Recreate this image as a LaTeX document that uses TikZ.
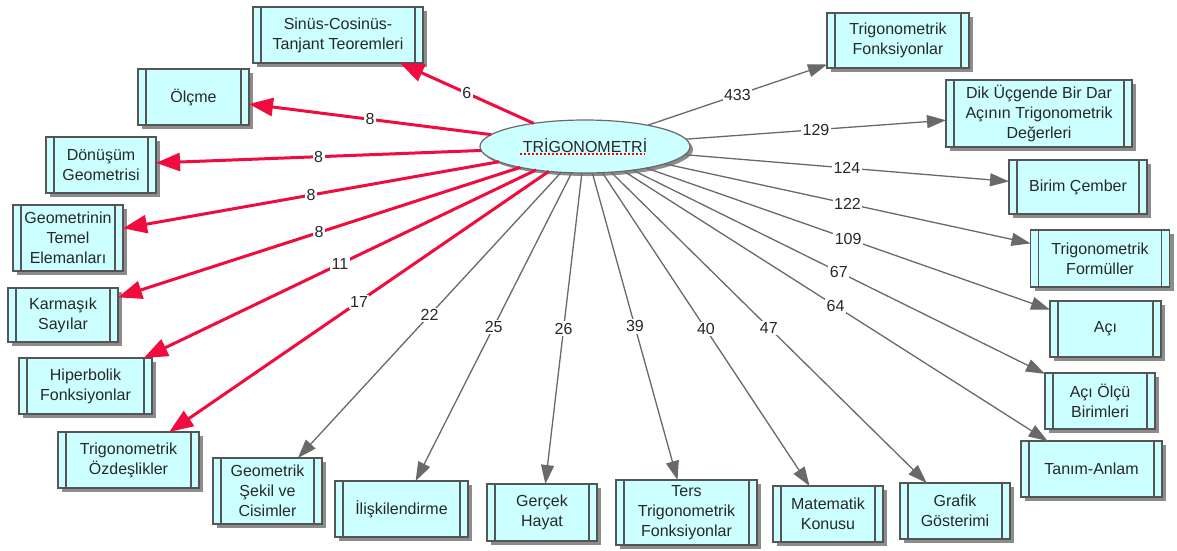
\documentclass[tikz,border=0pt]{standalone}
\usepackage{fontspec}
\setmainfont{Liberation Sans}
\usetikzlibrary{shapes.geometric,shadows,arrows.meta}
\definecolor{boxfill}{RGB}{204,255,255}
\definecolor{boxedge}{RGB}{85,85,85}
\definecolor{redline}{RGB}{240,12,62}
\definecolor{grayline}{RGB}{105,105,105}
\definecolor{txt}{RGB}{40,40,40}
\begin{document}
\begin{tikzpicture}[x=1pt,y=-1pt,
  procbox/.style={rectangle, draw=boxedge, line width=1.4pt, fill=boxfill,
    inner sep=0pt, outer sep=0pt, align=center, text=txt,
    font=\fontsize{16}{20}\selectfont,
    drop shadow={shadow xshift=4pt, shadow yshift=-4pt, fill=black!45, opacity=1},
    path picture={\draw[boxedge, line width=1.2pt]
      ([xshift=8pt]path picture bounding box.north west) -- ([xshift=8pt]path picture bounding box.south west)
      ([xshift=-8pt]path picture bounding box.north east) -- ([xshift=-8pt]path picture bounding box.south east);}},
  redarrow/.style={draw=redline, line width=3pt, -{Triangle[length=24pt,width=18pt]}},
  grayarrow/.style={draw=grayline, line width=1.3pt, -{Triangle[length=19pt,width=13pt]}},
  lab/.style={fill=white, inner sep=1.5pt, text=txt, font=\fontsize{16}{19}\selectfont, pos=0.5},
  spell/.style={draw=red, line width=2pt, dash pattern=on 2pt off 2pt}
]
\useasboundingbox (0,0) rectangle (1177,550);
\fill[white] (0,0) rectangle (1177,550);

% centre
\node[ellipse, draw=grayline, line width=1.2pt, fill=boxfill, minimum width=210pt, minimum height=53pt,
  inner sep=0pt, outer sep=0pt, text=txt, font=\fontsize{16}{20}\selectfont,
  drop shadow={shadow xshift=3pt, shadow yshift=-3pt, fill=black!45, opacity=1}]
  (c) at (585,146.5) {\raisebox{2pt}{TRİGONOMETRİ}};
\coordinate (u1) at (520,153.5);
\coordinate (u2) at (645,153.5);
\draw[spell] (u1) -- (u2);

% boxes
\node[procbox, minimum width=170pt, minimum height=56pt] (sinus) at (338,35) {Sinüs-Cosinüs-\\Tanjant Teoremleri};
\node[procbox, minimum width=111pt, minimum height=56pt] (olcme) at (193.5,97) {Ölçme};
\node[procbox, minimum width=110pt, minimum height=56pt] (donusum) at (101,165) {Dönüşüm\\Geometrisi};
\node[procbox, minimum width=110pt, minimum height=66pt] (geotemel) at (68,238) {Geometrinin\\Temel\\Elemanları};
\node[procbox, minimum width=110pt, minimum height=54pt] (karmasik) at (63,315) {Karmaşık\\Sayılar};
\node[procbox, minimum width=133pt, minimum height=56pt] (hiper) at (85.5,386) {Hiperbolik\\Fonksiyonlar};
\node[procbox, minimum width=141pt, minimum height=56pt] (ozdes) at (128.5,460) {Trigonometrik\\Özdeşlikler};
\node[procbox, minimum width=109pt, minimum height=66pt] (geosekil) at (267.5,491) {Geometrik\\Şekil ve\\Cisimler};
\node[procbox, minimum width=133pt, minimum height=56pt] (iliski) at (401.5,509) {İlişkilendirme};
\node[procbox, minimum width=110pt, minimum height=57pt] (gercek) at (542,512.5) {Gerçek\\Hayat};
\node[procbox, minimum width=141pt, minimum height=65pt] (ters) at (686.5,512.5) {Ters\\Trigonometrik\\Fonksiyonlar};
\node[procbox, minimum width=110pt, minimum height=56pt] (matematik) at (828,514) {Matematik\\Konusu};
\node[procbox, minimum width=110pt, minimum height=56pt] (grafik) at (955,511) {Grafik\\Gösterimi};
\node[procbox, minimum width=141pt, minimum height=56pt] (tanim) at (1091.5,469) {Tanım-Anlam};
\node[procbox, minimum width=110pt, minimum height=56pt] (aciolcu) at (1100,401) {Açı Ölçü\\Birimleri};
\node[procbox, minimum width=111pt, minimum height=56pt] (aci) at (1105.5,329) {Açı};
\node[procbox, minimum width=139pt, minimum height=57pt] (formul) at (1100,258.5) {Trigonometrik\\Formüller};
\node[procbox, minimum width=138pt, minimum height=54pt] (birim) at (1078,187) {Birim Çember};
\node[procbox, minimum width=186pt, minimum height=67pt] (dik) at (1039,113.5) {Dik Üçgende Bir Dar\\Açının Trigonometrik\\Değerleri};
\node[procbox, minimum width=142pt, minimum height=55pt] (trigfonk) at (898,40.5) {Trigonometrik\\Fonksiyonlar};

% red connectors
\draw[redarrow] (c) -- node[lab] {6} (sinus);
\draw[redarrow] (c) -- node[lab] {8} (olcme);
\draw[redarrow] (c) -- node[lab] {8} (donusum);
\draw[redarrow] (c) -- node[lab] {8} (geotemel);
\draw[redarrow] (c) -- node[lab] {8} (karmasik);
\draw[redarrow] (c) -- node[lab] {11} (hiper);
\draw[redarrow] (c) -- node[lab] {17} (ozdes);

% gray connectors
\draw[grayarrow] (c) -- node[lab] {22} (geosekil);
\draw[grayarrow] (c) -- node[lab] {25} (iliski);
\draw[grayarrow] (c) -- node[lab] {26} (gercek);
\draw[grayarrow] (c) -- node[lab] {39} (ters);
\draw[grayarrow] (c) -- node[lab] {40} (matematik);
\draw[grayarrow] (c) -- node[lab] {47} (grafik);
\draw[grayarrow] (c) -- node[lab] {64} (tanim);
\draw[grayarrow] (c) -- node[lab] {67} (aciolcu);
\draw[grayarrow] (c) -- node[lab] {109} (aci);
\draw[grayarrow] (c) -- node[lab] {122} (formul);
\draw[grayarrow] (c) -- node[lab] {124} (birim);
\draw[grayarrow] (c) -- node[lab] {129} (dik);
\draw[grayarrow] (c) -- node[lab] {433} (trigfonk);
\end{tikzpicture}
\end{document}
